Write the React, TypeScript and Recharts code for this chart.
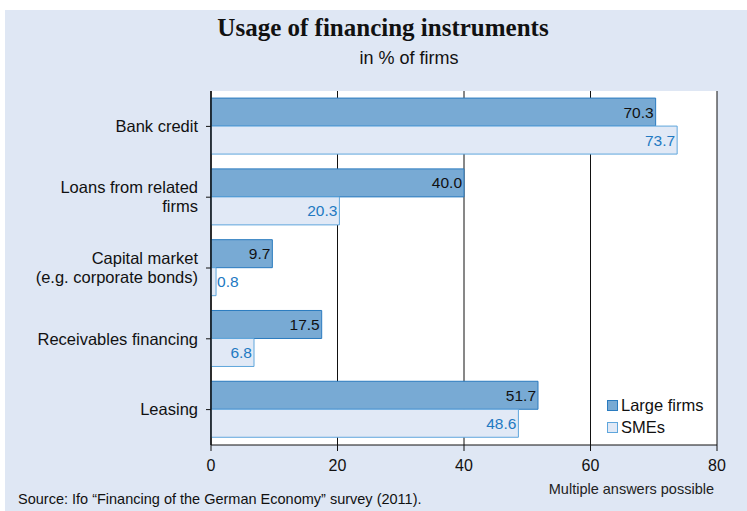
import { Bar, BarChart, CartesianGrid, LabelList, Legend, XAxis, YAxis } from "recharts";

const categories = [
  "Bank credit",
  "Loans from related\nfirms",
  "Capital market\n(e.g. corporate bonds)",
  "Receivables financing",
  "Leasing",
];
const largeFirms = [70.3, 40.0, 9.7, 17.5, 51.7];
const smes = [73.7, 20.3, 0.8, 6.8, 48.6];
const xTicks = [0, 20, 40, 60, 80];

const data = categories.map((name, i) => ({ name, large: largeFirms[i], sme: smes[i] }));

const SANS = "'Liberation Sans', Arial, sans-serif";
const BG = "#dfe7f4";
const LARGE_FILL = "#78aad4";
const LARGE_STROKE = "#2a7bbf";
const SME_FILL = "#e1e9f6";
const SME_STROKE = "#5fa6dc";
const SME_TEXT = "#2279c2";

function CategoryTick({ x, y, payload }: any) {
  const lines = String(payload.value).split("\n");
  const lh = 19;
  const y0 = y - ((lines.length - 1) * lh) / 2;
  return (
    <text x={x - 6} y={y0} textAnchor="end" fontFamily={SANS} fontSize={16.5} fill="#111">
      {lines.map((l, i) => (
        <tspan key={i} x={x - 6} y={y0 + i * lh} dy="0.35em">
          {l}
        </tspan>
      ))}
    </text>
  );
}

function ValueTick({ x, y, payload }: any) {
  return (
    <text x={x} y={y + 18} textAnchor="middle" fontFamily={SANS} fontSize={16} fill="#111">
      {payload.value}
    </text>
  );
}

function barLabel(color: string) {
  return (props: any) => {
    const { x, y, width, height, value } = props;
    const small = width < 30;
    return (
      <text
        x={small ? x + width + 1 : x + width - 2}
        y={y + height / 2}
        dy="0.35em"
        textAnchor={small ? "start" : "end"}
        fontFamily={SANS}
        fontSize={15.5}
        fill={color}
      >
        {Number(value).toFixed(1)}
      </text>
    );
  };
}

function LegendBox() {
  const items = [
    { label: "Large firms", fill: LARGE_FILL, stroke: LARGE_STROKE },
    { label: "SMEs", fill: SME_FILL, stroke: SME_STROKE },
  ];
  return (
    <div style={{ fontFamily: SANS, fontSize: 16.5, color: "#111" }}>
      {items.map((it) => (
        <div key={it.label} style={{ display: "flex", alignItems: "center", height: 22 }}>
          <span
            style={{
              display: "inline-block",
              width: 11,
              height: 11,
              boxSizing: "border-box",
              background: it.fill,
              border: `1.5px solid ${it.stroke}`,
              marginRight: 3,
            }}
          />
          {it.label}
        </div>
      ))}
    </div>
  );
}

export default function App() {
  return (
    <div style={{ position: "relative", width: 747, height: 511, background: "#fff" }}>
      <style>{`body{margin:0}`}</style>
      <div style={{ position: "absolute", left: 5, top: 10, width: 742, height: 501, background: BG }} />
      <div
        style={{
          position: "absolute",
          left: 0,
          width: 766,
          top: 14,
          textAlign: "center",
          fontFamily: "'Liberation Serif', 'Times New Roman', serif",
          fontWeight: "bold",
          fontSize: 25,
          color: "#111",
        }}
      >
        Usage of financing instruments
      </div>
      <div
        style={{
          position: "absolute",
          left: 0,
          width: 818,
          top: 48,
          textAlign: "center",
          fontFamily: SANS,
          fontSize: 18,
          color: "#111",
        }}
      >
        in % of firms
      </div>
      <div style={{ position: "absolute", left: 0, top: 0 }}>
        <BarChart
          width={747}
          height={511}
          data={data}
          layout="vertical"
          margin={{ top: 91, right: 30, bottom: 0, left: 5 }}
          barCategoryGap="10%"
          barGap={0}
        >
          <CartesianGrid horizontal={false} stroke="#111" fill="#fff" fillOpacity={1} />
          <XAxis
            type="number"
            domain={[0, 80]}
            ticks={xTicks}
            height={66}
            axisLine={{ stroke: "#111" }}
            tickLine={{ stroke: "#111" }}
            tickSize={6}
            tick={<ValueTick />}
          />
          <XAxis
            xAxisId="top"
            orientation="top"
            type="number"
            domain={[0, 80]}
            height={0}
            tick={false}
            tickLine={false}
            axisLine={{ stroke: "#111" }}
          />
          <YAxis
            type="category"
            dataKey="name"
            width={206}
            axisLine={{ stroke: "#111", strokeWidth: 1.5 }}
            tickLine={{ stroke: "#111" }}
            tickSize={5}
            tick={<CategoryTick />}
            interval={0}
          />
          <Legend
            layout="vertical"
            verticalAlign="middle"
            align="center"
            wrapperStyle={{ left: 607, top: 394, width: 110 }}
            content={<LegendBox />}
          />
          <Bar dataKey="large" name="Large firms" fill={LARGE_FILL} stroke={LARGE_STROKE} strokeWidth={1} isAnimationActive={false}>
            <LabelList dataKey="large" content={barLabel("#111")} />
          </Bar>
          <Bar dataKey="sme" name="SMEs" fill={SME_FILL} stroke={SME_STROKE} strokeWidth={1} isAnimationActive={false}>
            <LabelList dataKey="sme" content={barLabel(SME_TEXT)} />
          </Bar>
        </BarChart>
      </div>
      <div style={{ position: "absolute", right: 33, top: 481, fontFamily: SANS, fontSize: 14.5, color: "#222" }}>
        Multiple answers possible
      </div>
      <div style={{ position: "absolute", left: 18, top: 491, fontFamily: SANS, fontSize: 14.5, color: "#111" }}>
        Source: Ifo “Financing of the German Economy” survey (2011).
      </div>
    </div>
  );
}
